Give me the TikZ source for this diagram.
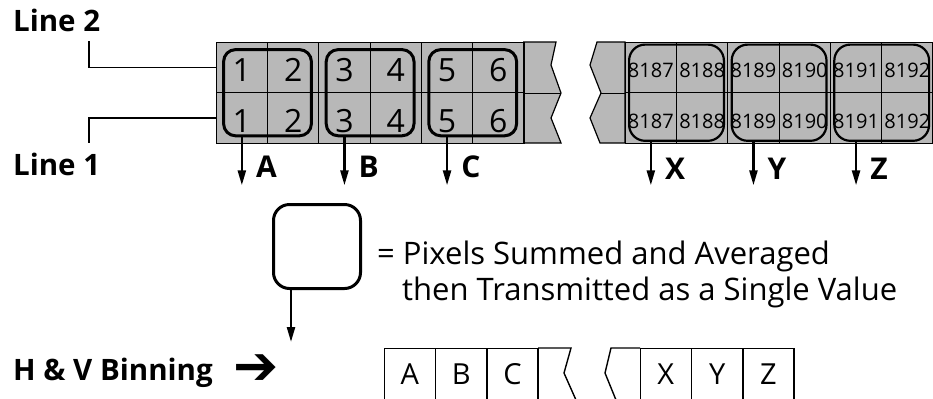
\documentclass[tikz,border=0pt]{standalone}
\usepackage{fontspec}
\setmainfont{Open Sans}
\newfontfamily\dingfont{DejaVu Sans}
\usetikzlibrary{matrix, arrows.meta, positioning, fit}

\definecolor{pixgray}{RGB}{184,184,184}

\tikzset{
  pix/.style = {draw, fill=pixgray, line width=1.2bp, minimum width=51.3bp, minimum height=50.5bp, inner sep=0},
  bigpix/.style = {pix, font=\fontsize{32bp}{32bp}\selectfont, text height=29bp, text depth=0pt},
  smallpix/.style = {pix, font=\fontsize{20bp}{20bp}\selectfont, text height=21bp, text depth=0pt},
  outcell/.style = {draw, line width=1.4bp, minimum width=51.3bp, minimum height=52bp, inner sep=0, font=\fontsize{29bp}{29bp}\selectfont},
  binbox/.style = {draw, line width=3bp, rounded corners=12bp, inner sep=-8bp, outer sep=0},
  binboxthin/.style = {draw, line width=2.2bp, rounded corners=16bp, inner xsep=-4.5bp, inner ysep=-3bp, outer sep=0},
  binarrow/.style = {line width=2.4bp, -{Triangle[length=15bp, width=8bp]}},
  binlbl/.style = {font=\fontsize{30bp}{30bp}\selectfont\bfseries, inner sep=0},
  linelbl/.style = {font=\fontsize{29.5bp}{29.5bp}\selectfont\bfseries, inner sep=0},
  legendtxt/.style = {font=\fontsize{31bp}{31bp}\selectfont, inner sep=0},
  leadline/.style = {line width=1.5bp},
}

\begin{document}
\begin{tikzpicture}[x=1bp, y=-1bp]
\useasboundingbox (0,0) rectangle (933,398);

% broken ends of the two pixel lines
\filldraw[fill=pixgray, line width=1.2bp] (523.8,42) -- (556,42) -- (551,65) -- (561,93) -- (551,118) -- (561,143) -- (523.8,143) -- cycle;
\draw[line width=0.8bp] (523.8,93) -- (561,93);
\filldraw[fill=pixgray, line width=1.2bp] (625,42) -- (597,42) -- (590,65) -- (601,93) -- (590,118) -- (600,143) -- (625,143) -- cycle;
\draw[line width=0.8bp] (601,93) -- (625,93);

% sensor pixels, line 2 on top, line 1 below
\matrix (pxleft) [matrix of nodes, nodes={bigpix}, column sep=-1.2bp, row sep=-1.2bp, inner sep=0, anchor=north west] at (215.4,41.4) {
1 & 2 & 3 & 4 & 5 & 6 \\
1 & 2 & 3 & 4 & 5 & 6 \\
};
\matrix (pxright) [matrix of nodes, nodes={smallpix}, column sep=-1.2bp, row sep=-1.2bp, inner sep=0, anchor=north west] at (624.4,41.4) {
8187 & 8188 & 8189 & 8190 & 8191 & 8192 \\
8187 & 8188 & 8189 & 8190 & 8191 & 8192 \\
};

\node[binbox, fit=(pxleft-1-1)(pxleft-2-2)] (binA) {};
\node[binbox, fit=(pxleft-1-3)(pxleft-2-4)] (binB) {};
\node[binbox, fit=(pxleft-1-5)(pxleft-2-6)] (binC) {};
\node[binboxthin, fit=(pxright-1-1)(pxright-2-2)] (binX) {};
\node[binboxthin, fit=(pxright-1-3)(pxright-2-4)] (binY) {};
\node[binboxthin, fit=(pxright-1-5)(pxright-2-6)] (binZ) {};

\coordinate[below=41.5bp of pxleft-2-1.south] (endA);
\coordinate[below=41.5bp of pxleft-2-3.south] (endB);
\coordinate[below=41.5bp of pxleft-2-5.south] (endC);
\coordinate[below=41.5bp of pxright-2-1.south] (endX);
\coordinate[below=41.5bp of pxright-2-3.south] (endY);
\coordinate[below=41.5bp of pxright-2-5.south] (endZ);

\draw[binarrow] (binA.south -| endA) -- (endA) node[binlbl, pos=.63, right=13bp] (lblA) {A};
\draw[binarrow] (binB.south -| endB) -- (endB) node[binlbl, pos=.63, right=13bp] (lblB) {B};
\draw[binarrow] (binC.south -| endC) -- (endC) node[binlbl, pos=.63, right=13bp] (lblC) {C};
\draw[binarrow] (binX.south -| endX) -- (endX) node[binlbl, pos=.63, right=13bp] (lblX) {X};
\draw[binarrow] (binY.south -| endY) -- (endY) node[binlbl, pos=.63, right=13bp] (lblY) {Y};
\draw[binarrow] (binZ.south -| endZ) -- (endZ) node[binlbl, pos=.63, right=13bp] (lblZ) {Z};

% line labels
\node[linelbl, anchor=base west] (line2) at (13,31) {Line 2};
\node[linelbl, anchor=base west] (line1) at (13,175) {Line 1};
\coordinate (line2stub) at (89,41);
\coordinate (line1stub) at (89,143);
\draw[leadline] (line2stub) |- (pxleft-1-1.west);
\draw[leadline] (pxleft-2-1.west) -| (line1stub);

% legend
\node[draw, line width=3bp, rounded corners=16bp, minimum width=87bp, minimum height=84bp, outer sep=0] (legend) at (317,246.5) {};
\coordinate (legendend) at (291,342);
\draw[binarrow] (legend.south -| legendend) -- (legendend);
\node[legendtxt, anchor=base west] (legend1) at (377,264) {= Pixels Summed and Averaged};
\node[legendtxt, anchor=base west] (legend2) at (402,300) {then Transmitted as a Single Value};

% binned output
\node[linelbl, anchor=base west] (hv) at (13,380) {H \& V Binning};
\node[font=\fontsize{54bp}{54bp}\selectfont, inner sep=0] (hvarrow) at (256,370) {\dingfont ➔};

\draw[line width=1.4bp] (538,348) -- (571,348) -- (564,373) -- (576,400);
\draw[line width=1.4bp] (640,348) -- (611,348) -- (605,373) -- (616,400);
\matrix (outleft) [matrix of nodes, nodes={outcell}, column sep=-1.4bp, inner sep=0, anchor=north west] at (383.3,347.3) {
A & B & C \\
};
\matrix (outright) [matrix of nodes, nodes={outcell}, column sep=-1.4bp, inner sep=0, anchor=north west] at (639.3,347.3) {
X & Y & Z \\
};
\end{tikzpicture}
\end{document}
